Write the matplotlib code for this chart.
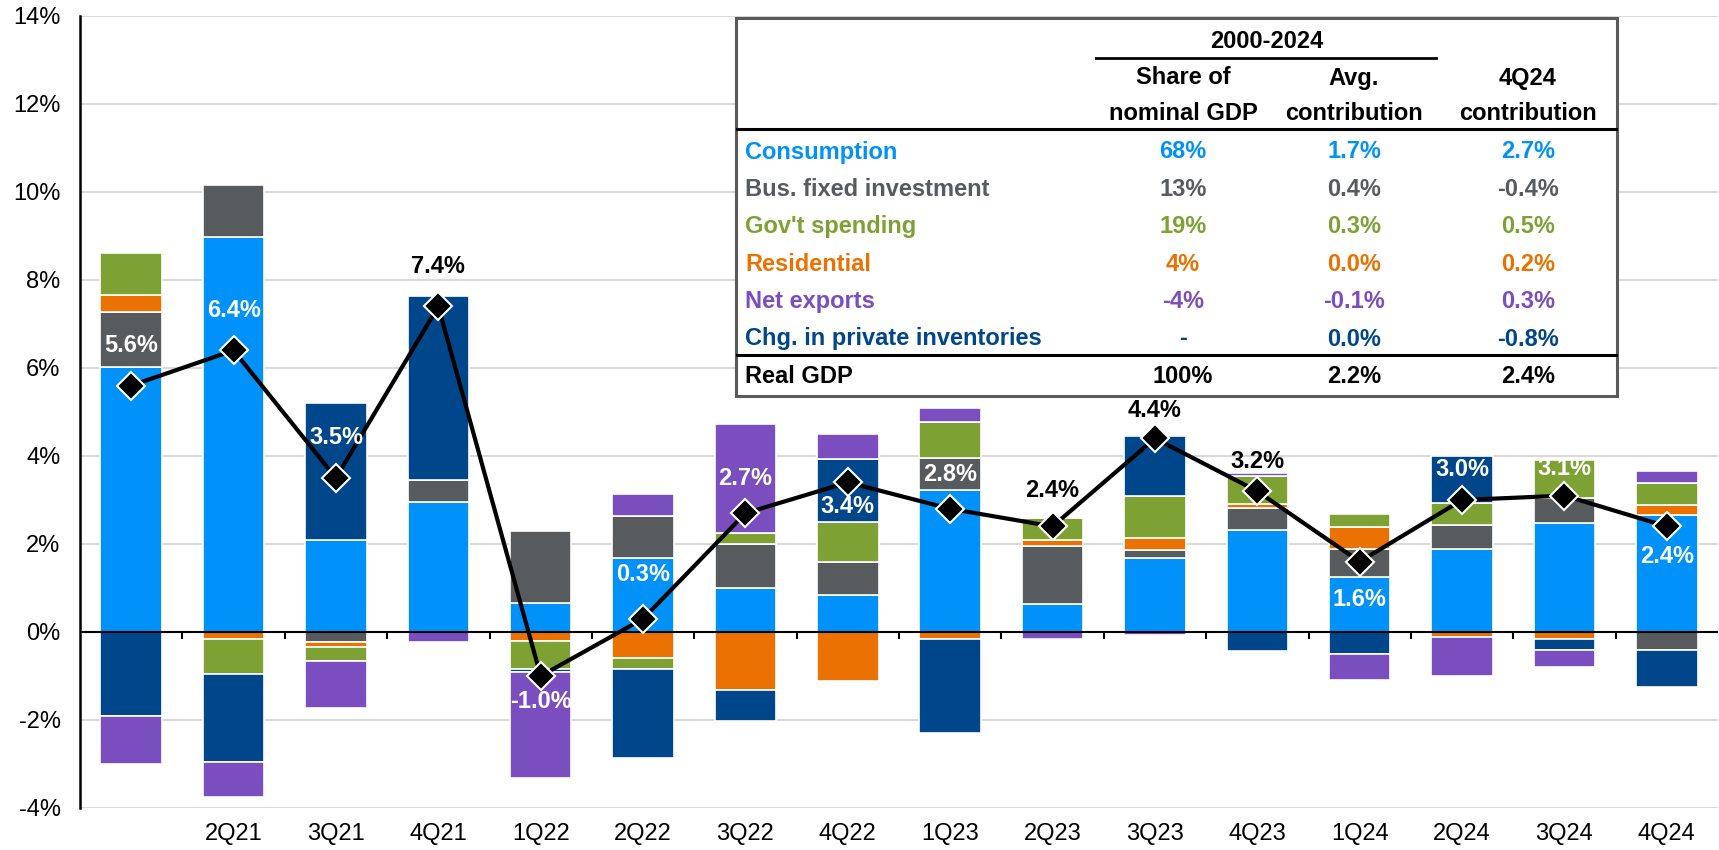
import numpy as np
import matplotlib
matplotlib.use("Agg")
import matplotlib.pyplot as plt
from matplotlib.patches import Rectangle
from matplotlib.lines import Line2D

plt.rcParams['font.family'] = ['Liberation Sans', 'DejaVu Sans']

# quarterly contributions to real GDP growth (pp, saar)
quarters = ['1Q21', '2Q21', '3Q21', '4Q21', '1Q22', '2Q22', '3Q22', '4Q22',
            '1Q23', '2Q23', '3Q23', '4Q23', '1Q24', '2Q24', '3Q24', '4Q24']
tick_labels = [''] + quarters[1:]

consumption = [6.02, 8.97, 2.10, 2.95, 0.65, 1.68, 0.99, 0.85, 3.22, 0.63, 1.68, 2.32, 1.25, 1.88, 2.47, 2.66]
bus_fixed   = [1.25, 1.20, -0.22, 0.50, 1.64, 0.96, 1.02, 0.73, 0.73, 1.32, 0.18, 0.50, 0.64, 0.55, 0.57, -0.40]
residential = [0.40, -0.15, -0.12, 0.00, -0.20, -0.58, -1.31, -1.12, -0.15, 0.14, 0.28, 0.10, 0.49, -0.12, -0.17, 0.22]
govt        = [0.95, -0.80, -0.32, 0.00, -0.63, -0.27, 0.25, 0.91, 0.83, 0.50, 0.95, 0.63, 0.31, 0.50, 0.86, 0.51]
inventories = [-1.90, -2.00, 3.10, 4.18, -0.07, -2.01, -0.72, 1.45, -2.14, 0.00, 1.37, -0.43, -0.50, 1.06, -0.23, -0.85]
net_exports = [-1.10, -0.80, -1.06, -0.23, -2.42, 0.49, 2.47, 0.57, 0.31, -0.15, -0.06, 0.07, -0.58, -0.87, -0.40, 0.26]
real_gdp    = [5.6, 6.4, 3.5, 7.4, -1.0, 0.3, 2.7, 3.4, 2.8, 2.4, 4.4, 3.2, 1.6, 3.0, 3.1, 2.4]

# table
row_names = ['Consumption', 'Bus. fixed investment', "Gov't spending", 'Residential',
             'Net exports', 'Chg. in private inventories', 'Real GDP']
share_nominal = ['68%', '13%', '19%', '4%', '-4%', '-', '100%']
avg_contrib   = ['1.7%', '0.4%', '0.3%', '0.0%', '-0.1%', '0.0%', '2.2%']
last_contrib  = ['2.7%', '-0.4%', '0.5%', '0.2%', '0.3%', '-0.8%', '2.4%']

c_cons = '#0092F8'
c_bfi = '#575B5E'
c_gov = '#7DA133'
c_res = '#EB7100'
c_net = '#7B4EC0'
c_inv = '#00468B'
series = [(consumption, c_cons), (bus_fixed, c_bfi), (residential, c_res),
          (govt, c_gov), (inventories, c_inv), (net_exports, c_net)]
row_colors = [c_cons, c_bfi, c_gov, c_res, c_net, c_inv, 'black']

# label placement (px above marker, negative = below) and colour
label_dy = [40, 40, 41, 40, -26, 44, 35, -24, 34, 36, 28, 30, -38, 31, 27, -30]
label_col = ['white', 'white', 'white', 'black', 'white', 'white', 'white', 'white',
             'white', 'black', 'black', 'black', 'white', 'white', 'white', 'white']

W, H = 1719, 850
fig = plt.figure(figsize=(W / 100, H / 100), dpi=100)
ax = fig.add_axes([80 / W, 42 / H, 1638 / W, 792 / H])

x = np.arange(len(quarters))
pos = np.zeros(len(x))
neg = np.zeros(len(x))
for vals, col in series:
    v = np.array(vals)
    bottom = np.where(v >= 0, pos, neg)
    ax.bar(x, v, 0.6, bottom=bottom, color=col, edgecolor='white', linewidth=1.2, zorder=3)
    pos = pos + np.where(v > 0, v, 0)
    neg = neg + np.where(v < 0, v, 0)

ax.plot(x, real_gdp, color='black', lw=3, zorder=5)
ax.plot(x, real_gdp, 'D', ms=14, mfc='black', mec='white', mew=1.5, zorder=6)
for i, g in enumerate(real_gdp):
    ax.annotate(f'{g:.1f}%', (x[i], g), xytext=(0, label_dy[i] * 0.72), textcoords='offset points',
                ha='center', va='center', fontsize=17, fontweight='bold', color=label_col[i], zorder=7)

ax.set_xlim(-0.5, 15.5)
ax.set_ylim(-4, 14)
ax.set_yticks(np.arange(-4, 15, 2))
ax.set_yticklabels([f'{t}%' for t in range(-4, 15, 2)])
ax.set_xticks(x)
ax.set_xticklabels(tick_labels)
ax.tick_params(axis='both', length=0, labelsize=17)
ax.tick_params(axis='y', pad=14)
ax.tick_params(axis='x', pad=11)
for t in np.arange(-4, 15, 2):
    if t != 0:
        ax.axhline(t, color='#D9D9D9', lw=1.5, zorder=0)
ax.axhline(0, color='black', lw=1.5, zorder=4)
ax.vlines(np.arange(0.5, 15.5, 1), -0.16, 0, color='black', lw=1.5, zorder=4)
for s in ['top', 'right', 'bottom']:
    ax.spines[s].set_visible(False)
ax.spines['left'].set_linewidth(1.8)
ax.spines['left'].set_zorder(4)


def fx(px):
    return px / W


def fy(py):
    return 1 - py / H


# table box
fig.patches.append(Rectangle((fx(736), fy(396)), fx(1617) - fx(736), fy(18) - fy(396),
                             transform=fig.transFigure, facecolor='white', edgecolor='#5A5A5A',
                             lw=2.2, zorder=10))
for x0, x1, yy, lw in [(1096, 1436, 58, 2.0), (737, 1616, 129, 2.2), (737, 1616, 355, 2.2)]:
    fig.lines.append(Line2D([fx(x0), fx(x1)], [fy(yy), fy(yy)], transform=fig.transFigure,
                            color='black', lw=lw, zorder=11))

tk = dict(fontsize=17, fontweight='bold', va='center', zorder=12)
col_x = [1183, 1354, 1528]
fig.text(fx(1267), fy(42), '2000-2024', ha='center', **tk)
fig.text(fx(col_x[0]), fy(78), 'Share of', ha='center', **tk)
fig.text(fx(col_x[0]), fy(113), 'nominal GDP', ha='center', **tk)
fig.text(fx(col_x[1]), fy(78), 'Avg.', ha='center', **tk)
fig.text(fx(col_x[1]), fy(113), 'contribution', ha='center', **tk)
fig.text(fx(col_x[2]), fy(78), '4Q24', ha='center', **tk)
fig.text(fx(col_x[2]), fy(113), 'contribution', ha='center', **tk)

for r, name in enumerate(row_names):
    yy = 152 + r * 37.4
    c = row_colors[r]
    fig.text(fx(745), fy(yy), name, ha='left', color=c, **tk)
    fig.text(fx(col_x[0]), fy(yy), share_nominal[r], ha='center', color=c, **tk)
    fig.text(fx(col_x[1]), fy(yy), avg_contrib[r], ha='center', color=c, **tk)
    fig.text(fx(col_x[2]), fy(yy), last_contrib[r], ha='center', color=c, **tk)

fig.savefig('out.png', dpi=100)
